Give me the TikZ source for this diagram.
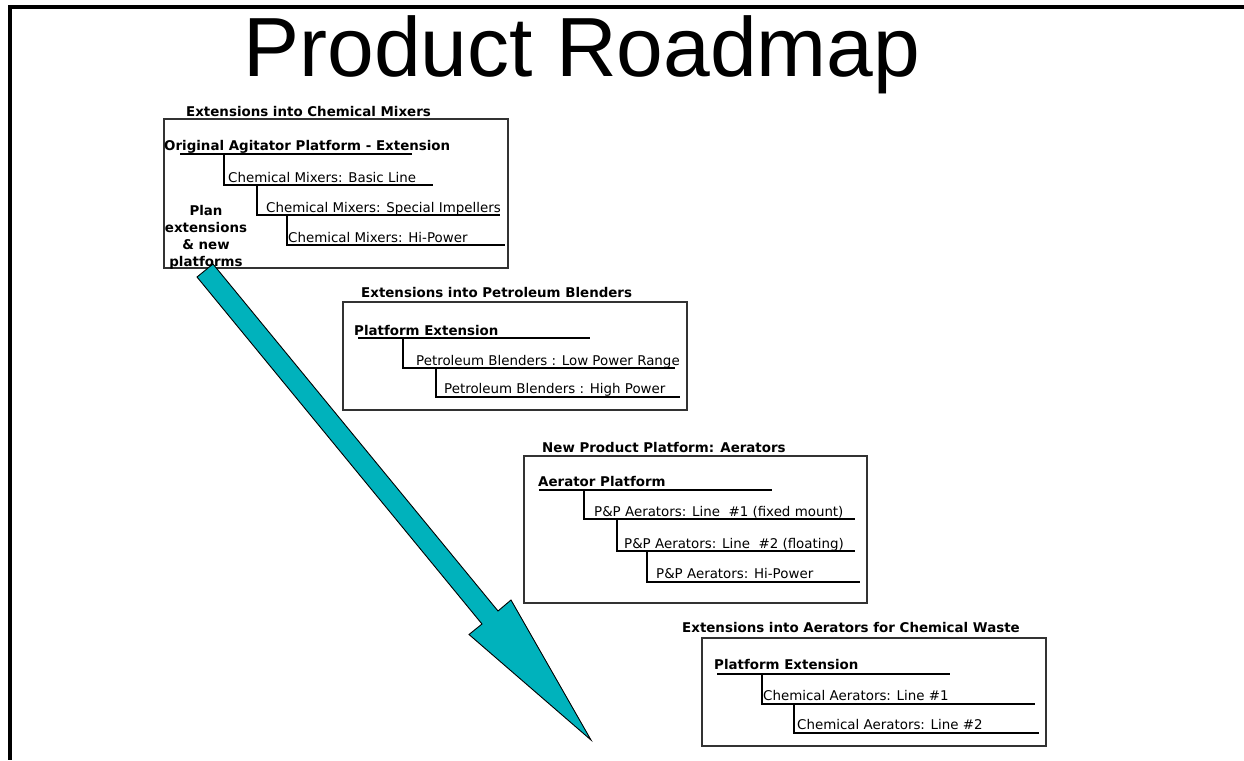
\documentclass[tikz,border=0pt]{standalone}
\usepackage{fontspec}
\setmainfont{DejaVu Sans}
\newfontfamily\titlefont{Liberation Sans}
\definecolor{arrowteal}{RGB}{0,178,188}
\definecolor{boxline}{RGB}{50,50,50}
\begin{document}
\begin{tikzpicture}[x=1pt,y=-1pt,
  lbl/.style={anchor=base west, inner sep=0pt, font=\fontsize{13.4}{16}\selectfont},
  blbl/.style={anchor=base west, inner sep=0pt, font=\fontsize{13.4}{16}\selectfont\bfseries},
  grp/.style={draw=boxline, line width=1.1pt},
  trunk/.style={line width=2.8pt},
  branch/.style={line width=2.1pt},
  roadarrow/.style={fill=arrowteal, draw=black, line width=0.9pt, line join=miter}]
\useasboundingbox (0,0) rectangle (1244,760);
\fill[white] (0,0) rectangle (1244,760);
\draw[line width=3.6pt] (1244,7) -- (10,7) -- (10,760);

\node[anchor=base, inner sep=0pt, font=\titlefont\fontsize{84}{90}\selectfont] (title) at (582,77) {Product Roadmap};

% ---- group 1
\draw[grp] (164,119) rectangle (508,268);
\node[blbl] (t1) at (186,116) {Extensions into Chemical Mixers};
\node[blbl] (p1) at (164,150) {Original Agitator Platform - Extension};
\draw[trunk] (180,154) -- (412,154);
\draw[branch] (224,154) |- (433,185);
\node[lbl] (c11) at (228,182) {Chemical Mixers: Basic Line};
\draw[branch] (257,185) |- (500,215);
\node[lbl] (c12) at (266,212) {Chemical Mixers: Special Impellers};
\draw[branch] (287,215) |- (505,245);
\node[lbl] (c13) at (288,242) {Chemical Mixers: Hi-Power};

% ---- group 2
\draw[grp] (343,302) rectangle (687,410);
\node[blbl] (t2) at (361,297) {Extensions into Petroleum Blenders};
\node[blbl] (p2) at (354,335) {Platform Extension};
\draw[trunk] (358,338) -- (590,338);
\draw[branch] (403,338) |- (675,368);
\node[lbl] (c21) at (416,365) {Petroleum Blenders : Low Power Range};
\draw[branch] (436,368) |- (680,397);
\node[lbl] (c22) at (444,393) {Petroleum Blenders : High Power};

% ---- group 3
\draw[grp] (524,456) rectangle (867,603);
\node[blbl] (t3) at (542,452) {New Product Platform: Aerators};
\node[blbl] (p3) at (538,486) {Aerator Platform};
\draw[trunk] (539,490) -- (772,490);
\draw[branch] (584,490) |- (855,519);
\node[lbl] (c31) at (594,516) {P\&P Aerators: Line\ \ \#1 (fixed mount)};
\draw[branch] (617,519) |- (855,551);
\node[lbl] (c32) at (624,548) {P\&P Aerators: Line\ \ \#2 (floating)};
\draw[branch] (647,551) |- (860,582);
\node[lbl] (c33) at (656,578) {P\&P Aerators: Hi-Power};

% ---- group 4
\draw[grp] (702,638) rectangle (1046,746);
\node[blbl] (t4) at (682,632) {Extensions into Aerators for Chemical Waste};
\node[blbl] (p4) at (714,669) {Platform Extension};
\draw[trunk] (717,674) -- (950,674);
\draw[branch] (762,674) |- (1035,704);
\node[lbl] (c41) at (763,700) {Chemical Aerators: Line \#1};
\draw[branch] (794,704) |- (1039,733);
\node[lbl] (c42) at (797,729) {Chemical Aerators: Line \#2};

% ---- roadmap arrow
\draw[roadarrow] (197,277) -- (213,264) -- (498,611) -- (511,600) -- (591,740) -- (469,634.5) -- (482,624) -- cycle;

\node[align=center, inner sep=0pt, font=\fontsize{13.4}{17}\selectfont\bfseries] (plan) at (206,237) {Plan\\extensions\\\& new\\platforms};
\end{tikzpicture}
\end{document}
